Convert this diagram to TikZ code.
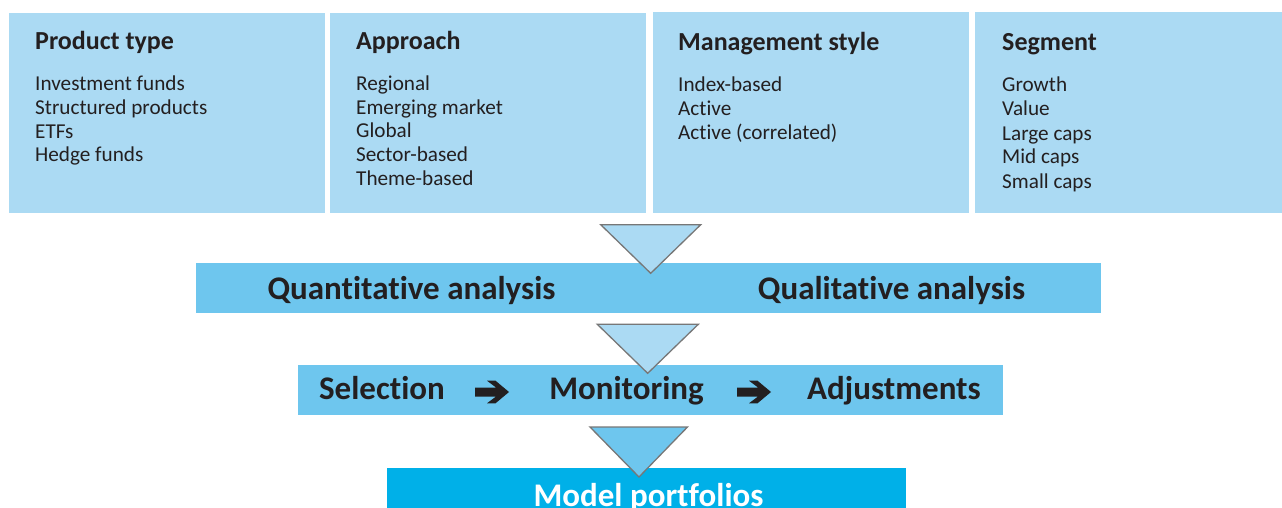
\documentclass[tikz,border=0pt]{standalone}
\usepackage{fontspec}
\setmainfont{Carlito}[Ligatures={NoCommon}]
\definecolor{boxblue}{HTML}{ABDAF3}
\definecolor{bandblue}{HTML}{6EC6EE}
\definecolor{deepblue}{HTML}{00B0E8}
\definecolor{ink}{HTML}{231F20}
\definecolor{edgegray}{HTML}{777777}
\tikzset{
  panel/.style={fill=boxblue, draw=none, inner sep=0pt, outer sep=0pt, anchor=north west},
  band/.style={fill=bandblue, draw=none, inner sep=0pt, outer sep=0pt, anchor=north west},
  finalbox/.style={fill=deepblue, draw=none, inner sep=0pt, outer sep=0pt, anchor=north west},
  headtxt/.style={anchor=base west, inner sep=0pt, text=ink, font=\bfseries\fontsize{26}{30}\selectfont},
  itemtxt/.style={anchor=base west, inner sep=0pt, text=ink, font=\fontsize{21.2}{25}\selectfont},
  bigtxt/.style={anchor=base, inner sep=0pt, text=ink, font=\bfseries\fontsize{33}{38}\selectfont},
  funnel/.style={draw=edgegray, line width=1.3pt, line join=miter},
  bigarrow/.style={fill=ink, draw=none}
}
\begin{document}
\begin{tikzpicture}[x=1pt,y=-1pt]
\useasboundingbox (0,0) rectangle (1282,508);
\clip (0,0) rectangle (1282,508);
% top panels
\node[panel, minimum width=316pt, minimum height=200pt] (p1) at (9,13) {};
\node[panel, minimum width=316pt, minimum height=200pt] (p2) at (330,13) {};
\node[panel, minimum width=316pt, minimum height=201pt] (p3) at (653,12) {};
\node[panel, minimum width=307pt, minimum height=201pt] (p4) at (975,12) {};
% panel texts
\node[headtxt] (h1) at (35,49.3) {Product type};
\foreach \t [count=\i from 0] in {Investment funds,Structured products,ETFs,Hedge funds}
  \node[itemtxt] (a\i) at (35,90.7+23.7*\i) {\t};
\node[headtxt] (h2) at (356,49.3) {Approach};
\foreach \t [count=\i from 0] in {Regional,Emerging market,Global,Sector-based,Theme-based}
  \node[itemtxt] (b\i) at (356,90.7+23.6*\i) {\t};
\node[headtxt] (h3) at (678,51) {Management style};
\foreach \t [count=\i from 0] in {Index-based,Active,Active (correlated)}
  \node[itemtxt] (c\i) at (678,92+23.9*\i) {\t};
\node[headtxt] (h4) at (1002,51) {Segment};
\foreach \t [count=\i from 0] in {Growth,Value,Large caps,Mid caps,Small caps}
  \node[itemtxt] (d\i) at (1002,92+24*\i) {\t};
% bands
\node[band, minimum width=905pt, minimum height=50pt] (q) at (196,263) {};
\node[band, minimum width=705pt, minimum height=50pt] (s) at (298,365) {};
\node[finalbox, minimum width=519pt, minimum height=45pt] (m) at (387,468) {};
% band texts
\node[bigtxt] (qt) at (411.5,299.5) {Quantitative analysis};
\node[bigtxt] (ql) at (891.5,299.5) {Qualitative analysis};
\node[bigtxt] (sel) at (382,399.5) {Selection};
\node[bigtxt] (mon) at (626.5,399.5) {Monitoring};
\node[bigtxt] (adj) at (894,399.5) {Adjustments};
\node[bigtxt, text=white] (mp) at (648.5,506.5) {Model portfolios};
% funnel triangles
\draw[funnel, fill=boxblue] (600.7,224.7) -- (700.7,224.7) -- (650.7,273.3) -- cycle;
\draw[funnel, fill=boxblue] (597.3,324.3) -- (698.3,324.3) -- (647.7,373.3) -- cycle;
\draw[funnel, fill=bandblue] (590,427) -- (687.5,427) -- (639,477) -- cycle;
% arrows between steps
\foreach \dx/\nm in {0/ar1,262/ar2}{
  \fill[bigarrow] (475+\dx,387.5) -- (496+\dx,387.5) -- (487+\dx,380.7) -- (495.5+\dx,380.7)
    -- (509+\dx,392) -- (495.5+\dx,403.3) -- (487+\dx,403.3) -- (496+\dx,396.5)
    -- (475+\dx,396.5) -- cycle;
}
\end{tikzpicture}
\end{document}
